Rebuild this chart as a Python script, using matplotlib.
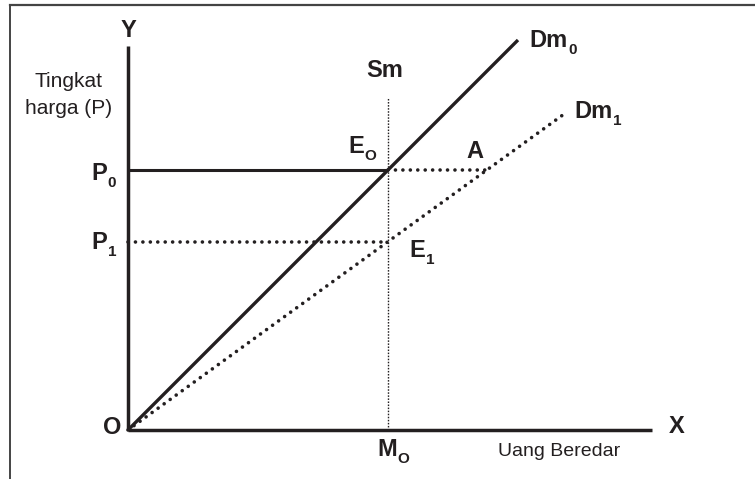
import matplotlib
matplotlib.use("Agg")
import matplotlib.pyplot as plt
from matplotlib.lines import Line2D

# Nilai kurva (satuan bebas, titik asal O di (0, 0))
M0 = 10.0
P0 = 10.0
P1 = 7.25
A_X = 13.8
DM0_X = [0.0, 15.0]
DM0_Y = [0.0, 15.0]
DM1_X = [0.0, 16.7]
DM1_Y = [0.0, 12.1]
Y_AXIS_TOP = 14.77
X_AXIS_END = 20.15
SM_TOP = 12.77

plt.rcParams["font.family"] = ["Liberation Sans", "DejaVu Sans"]

INK = "#231f20"
UNIT = 26.0  # piksel per satuan

fig = plt.figure(figsize=(7.55, 4.79), dpi=100)
ax = fig.add_axes([0, 0, 1, 1])
ax.set_xlim(-128 / UNIT, 627 / UNIT)
ax.set_ylim(-49 / UNIT, 430 / UNIT)
ax.axis("off")
renderer = fig.canvas.get_renderer()

# bingkai (hanya atas dan kiri)
ax.add_line(Line2D([-118 / UNIT, 627 / UNIT], [425 / UNIT, 425 / UNIT],
                   color="#444444", lw=1.6, clip_on=False))
ax.add_line(Line2D([-118 / UNIT, -118 / UNIT], [-49 / UNIT, 425 / UNIT],
                   color="#444444", lw=1.4, clip_on=False))

# sumbu
ax.plot([0, 0], [0, Y_AXIS_TOP], color=INK, lw=2.5, solid_capstyle="butt")
ax.plot([0, X_AXIS_END], [0, 0], color=INK, lw=2.5, solid_capstyle="butt")

dots = dict(color=INK, lw=2.6, linestyle=(0, (0.01, 2.05)), dash_capstyle="round")

# kurva permintaan uang
ax.plot(DM0_X, DM0_Y, color=INK, lw=2.4, solid_capstyle="butt")
ax.plot(DM1_X, DM1_Y, **dots)

# garis harga
ax.plot([0, M0], [P0, P0], color=INK, lw=2.2, solid_capstyle="butt")
ax.plot([M0, A_X], [P0, P0], **dots)
ax.plot([0, M0], [P1, P1], **dots)

# penawaran uang Sm
ax.plot([M0, M0], [0, SM_TOP], color=INK, lw=1.0, linestyle=(0, (1.1, 1.1)))

bold = dict(color=INK, fontsize=17, fontweight="bold")


def sub_label(x, y, main, sub):
    t = ax.text(x, y, main, ha="left", va="baseline", **bold)
    w = t.get_window_extent(renderer).width
    ax.annotate(sub, xy=(x, y), xytext=(w + 1, -7), textcoords="offset pixels",
                ha="left", va="baseline", color=INK, fontsize=11,
                fontweight="bold")


ax.text(0, 15.38, "Y", ha="center", va="center", **bold)
ax.text(21.1, 0.15, "X", ha="center", va="center", **bold)
ax.text(-0.25, 0.1, "O", ha="right", va="center", **bold)
ax.text(9.88, 13.58, "Sm", ha="center", va="baseline", **bold)
ax.text(13.35, 10.46, "A", ha="center", va="baseline", **bold)

sub_label(-1.42, 9.62, "P", "0")
sub_label(-1.42, 6.96, "P", "1")
sub_label(8.46, 10.65, "E", "O")
sub_label(10.81, 6.65, "E", "1")
sub_label(15.42, 14.73, "Dm", "0")
sub_label(17.15, 12.0, "Dm", "1")
sub_label(9.58, -1.0, "M", "O")

reg = dict(color=INK, fontsize=15)
ax.text(-2.27, 13.19, "Tingkat", ha="center", va="baseline", **reg)
ax.text(-2.27, 12.15, "harga (P)", ha="center", va="baseline", **reg)
ax.text(16.6, -1.0, "Uang Beredar", ha="center", va="baseline",
        color=INK, fontsize=14)

fig.savefig("out.png", dpi=100)
